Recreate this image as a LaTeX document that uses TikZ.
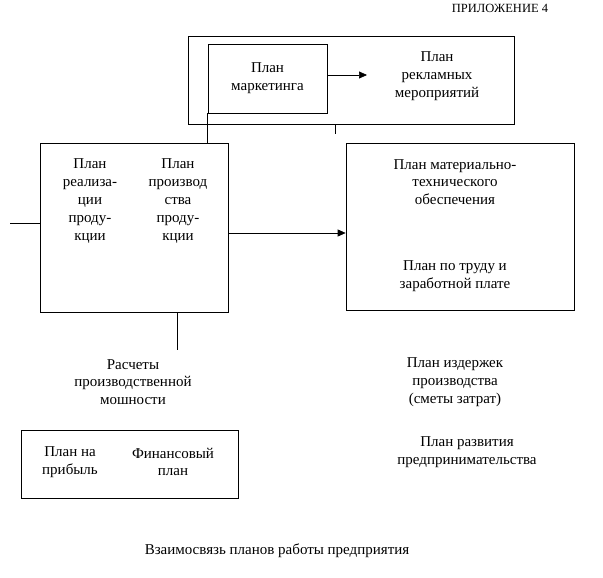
\documentclass[tikz,border=0pt]{standalone}
\usepackage{fontspec}
\setmainfont{Liberation Serif}
\usetikzlibrary{arrows.meta}
\tikzset{
  box/.style={draw, line width=0.7pt, inner sep=0pt},
  txt/.style={align=center, inner sep=0pt, font=\fontsize{15}{17.8}\selectfont},
  arr/.style={-{Triangle[length=8pt,width=7pt]}, line width=0.7pt}
}
\begin{document}
\begin{tikzpicture}[x=1pt,y=-1pt]
\useasboundingbox (0,0) rectangle (603,578);
\node[txt, font=\fontsize{12.5}{14}\selectfont] (app) at (500,8) {ПРИЛОЖЕНИЕ 4};
% top block
\node[box, minimum width=326pt, minimum height=88pt] (outer) at (351,80) {};
\node[box, minimum width=119pt, minimum height=69pt] (mkt) at (267.5,78.5) {};
\node[txt] (mkttxt) at (mkt) {План\\маркетинга};
\node[txt] (adv) at (437,76) {План\\рекламных\\мероприятий};
\coordinate (advin) at (367,75);
\draw[arr] (mkt.east |- advin) -- (advin);
% middle row
\node[box, minimum width=188pt, minimum height=169pt] (plan) at (134,227.5) {};
\node[txt] (sales) at (90,201) {План\\реализа-\\ции\\проду-\\кции};
\node[txt] (prod) at (178,201) {План\\производ\\ства\\проду-\\кции};
\node[box, minimum width=228pt, minimum height=167pt] (supply) at (460,226.5) {};
\node[txt] (mat) at (455,182) {План материально-\\технического\\обеспечения};
\node[txt] (labor) at (455,276) {План по труду и\\заработной плате};
\coordinate (left) at (10,223);
\coordinate (stub) at (335,134);
\coordinate (calc) at (177,350);
\draw[line width=0.7pt] (mkt.south west) -- (mkt.south west |- plan.north);
\draw[line width=0.7pt] (stub |- outer.south) -- (stub);
\draw[line width=0.7pt] (left) -- (plan.west |- left);
\draw[arr] ([yshift=-5.5pt]plan.east) -- ([yshift=-5.5pt]plan.east -| supply.west);
\draw[line width=0.7pt] (calc |- plan.south) -- (calc);
% lower part
\node[txt] (power) at (133,382) {Расчеты\\производственной\\мошности};
\node[txt] (cost) at (455,382) {План издержек\\производства\\(сметы затрат)};
\node[box, minimum width=217pt, minimum height=68pt] (fin) at (129.5,464) {};
\node[txt] (profit) at (70,462) {План на\\прибыль};
\node[txt] (finpl) at (173,462) {Финансовый\\план};
\node[txt] (dev) at (467,452) {План развития\\предпринимательства};
\node[txt] (title) at (277,551) {Взаимосвязь планов работы предприятия};
\end{tikzpicture}
\end{document}
